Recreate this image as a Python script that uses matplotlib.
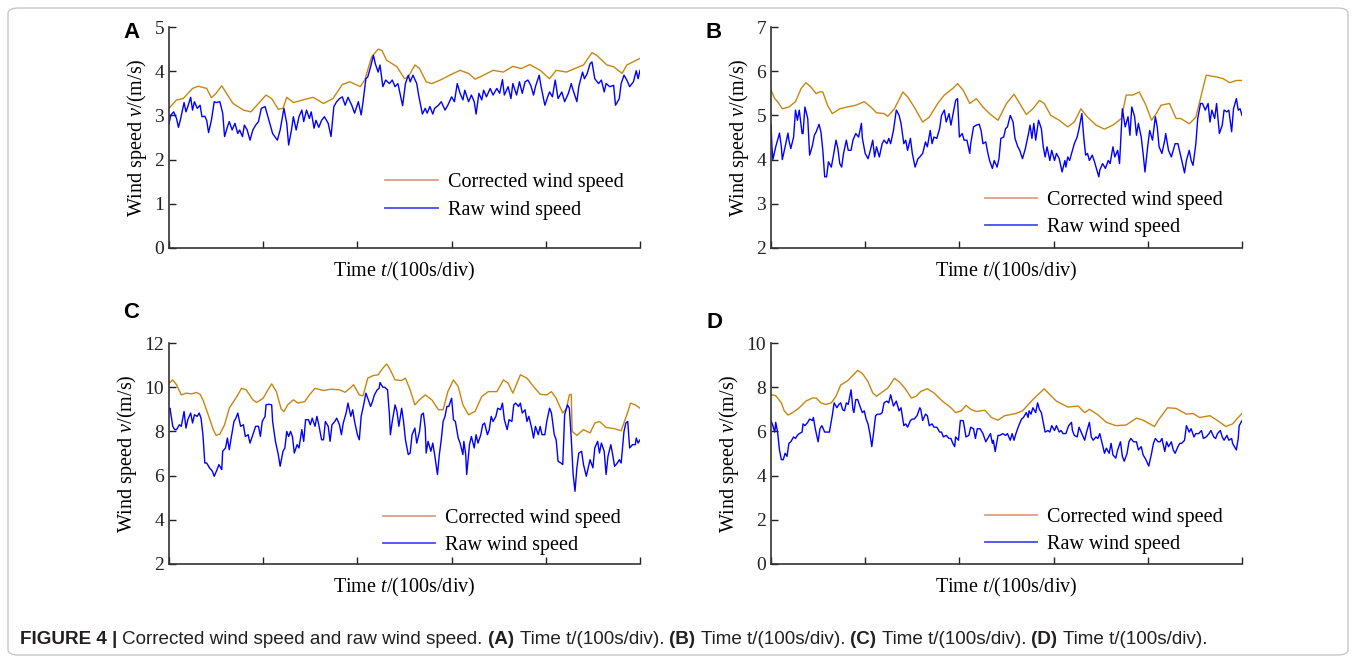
import numpy as np
import matplotlib
matplotlib.use("Agg")
import matplotlib.pyplot as plt
from matplotlib.lines import Line2D
from matplotlib.patches import FancyBboxPatch

plt.rcParams['font.family'] = ['Liberation Serif', 'DejaVu Serif']
plt.rcParams['mathtext.fontset'] = 'custom'
plt.rcParams['mathtext.rm'] = 'Liberation Serif'
plt.rcParams['mathtext.it'] = 'Liberation Serif:italic'

# time in seconds (100 s per division), wind speed in m/s

# ---- panel A ----
t_a_corr = [0, 8, 15, 25, 31, 40, 45, 50, 56, 61, 68, 79, 87, 95, 103, 109, 116, 121, 125, 132,
            142, 153, 164, 174, 184, 192, 203, 208, 215, 222, 226, 231, 242, 250, 254, 261, 266, 273, 279, 288,
            298, 309, 318, 325, 334, 344, 355, 365, 374, 383, 394, 404, 411, 422, 433, 440, 449, 454, 465, 472,
            481, 486, 500]
v_a_corr = [3.16, 3.35, 3.38, 3.61, 3.66, 3.61, 3.40, 3.50, 3.67, 3.50, 3.27, 3.12, 3.08, 3.27, 3.46, 3.38, 3.14, 3.16, 3.41, 3.29,
            3.35, 3.41, 3.27, 3.38, 3.70, 3.76, 3.65, 3.81, 4.32, 4.50, 4.47, 4.25, 4.10, 3.83, 3.87, 4.14, 4.06, 3.76, 3.72, 3.80,
            3.91, 4.02, 3.95, 3.82, 3.91, 4.02, 3.98, 4.11, 4.06, 4.15, 4.02, 3.83, 4.02, 3.98, 4.08, 4.14, 4.42, 4.36, 4.14, 4.10,
            3.95, 4.14, 4.29]
t_a_raw = [0, 2, 5, 8, 10, 12, 16, 18, 20, 23,
           25, 27, 30, 33, 35, 38, 40, 42, 45, 48,
           50, 54, 57, 59, 62, 64, 67, 70, 73, 75,
           78, 80, 83, 86, 89, 92, 95, 98, 102, 105,
           108, 110, 115, 118, 122, 125, 127, 130, 132, 135,
           138, 141, 143, 146, 149, 151, 154, 156, 159, 162,
           165, 169, 172, 175, 178, 181, 184, 187, 190, 194,
           197, 201, 204, 206, 209, 211, 214, 217, 219, 222,
           224, 227, 230, 234, 237, 240, 243, 246, 248, 251,
           254, 256, 259, 263, 265, 269, 272, 274, 277, 280,
           282, 286, 289, 293, 296, 300, 303, 306, 309, 312,
           314, 318, 321, 324, 326, 329, 332, 334, 337, 341,
           344, 348, 351, 354, 356, 360, 363, 365, 369, 372,
           375, 378, 381, 384, 387, 389, 393, 395, 399, 402,
           404, 407, 410, 413, 417, 420, 424, 427, 429, 433,
           435, 439, 441, 444, 447, 449, 452, 456, 459, 462,
           464, 468, 472, 474, 478, 480, 483, 486, 489, 493,
           496, 498, 500]
v_a_raw = [2.82, 3.01, 3.08, 2.93, 2.73, 2.89, 3.29, 3.08, 3.20, 3.41,
           3.12, 3.31, 3.16, 3.23, 2.97, 2.98, 2.89, 2.61, 2.89, 3.31,
           3.29, 3.31, 3.05, 2.52, 2.74, 2.86, 2.67, 2.82, 2.59, 2.67,
           2.52, 2.78, 2.67, 2.44, 2.67, 2.78, 2.86, 3.16, 3.20, 2.97,
           2.74, 2.59, 2.44, 2.67, 3.16, 2.82, 2.33, 2.67, 2.97, 2.67,
           2.97, 3.12, 2.86, 3.12, 2.93, 3.08, 2.71, 2.89, 2.73, 2.89,
           2.97, 2.82, 2.52, 3.20, 3.31, 3.38, 3.42, 3.23, 3.41, 3.23,
           3.05, 3.31, 3.01, 3.31, 3.83, 3.87, 4.10, 4.36, 4.17, 3.98,
           4.14, 3.65, 3.80, 3.72, 3.80, 3.65, 3.72, 3.42, 3.22, 3.72,
           3.91, 3.76, 3.91, 3.72, 3.46, 3.03, 3.16, 3.05, 3.20, 3.03,
           3.16, 3.23, 3.31, 3.12, 3.23, 3.42, 3.31, 3.72, 3.50, 3.35,
           3.57, 3.31, 3.46, 3.31, 3.03, 3.50, 3.35, 3.57, 3.42, 3.61,
           3.46, 3.61, 3.50, 3.81, 3.46, 3.65, 3.38, 3.72, 3.46, 3.76,
           3.50, 3.76, 3.80, 3.68, 3.46, 3.65, 3.91, 3.65, 3.23, 3.42,
           3.53, 3.42, 3.80, 3.38, 3.53, 3.31, 3.50, 3.72, 3.57, 3.31,
           3.65, 3.98, 3.83, 3.95, 4.17, 4.21, 3.83, 3.72, 3.80, 3.53,
           3.72, 3.65, 3.68, 3.23, 3.38, 3.72, 3.91, 3.80, 3.65, 3.76,
           4.01, 3.83, 4.02]

# ---- panel B ----
t_b_corr = [0, 4, 7, 12, 19, 26, 32, 37, 42, 48,
            51, 55, 60, 65, 73, 81, 90, 99, 106, 112,
            120, 124, 131, 140, 145, 152, 161, 168, 177, 184,
            193, 198, 204, 211, 218, 225, 232, 241, 250, 258,
            264, 271, 278, 285, 290, 297, 306, 315, 322, 329,
            336, 345, 354, 363, 372, 377, 384, 391, 398, 404,
            409, 414, 423, 430, 435, 444, 451, 462, 473, 480,
            487, 494, 500]
v_b_corr = [5.57, 5.38, 5.31, 5.15, 5.19, 5.31, 5.61, 5.74, 5.65, 5.49,
            5.53, 5.53, 5.23, 5.04, 5.15, 5.19, 5.23, 5.31, 5.19, 5.06,
            5.04, 4.98, 5.15, 5.53, 5.42, 5.19, 4.85, 4.96, 5.27, 5.46,
            5.61, 5.72, 5.57, 5.27, 5.38, 5.19, 5.04, 4.89, 5.27, 5.48,
            5.27, 5.02, 5.15, 5.34, 5.27, 5.00, 4.89, 4.74, 4.85, 5.15,
            4.96, 4.78, 4.69, 4.78, 4.93, 5.46, 5.46, 5.53, 5.23, 4.89,
            5.04, 5.23, 5.27, 4.93, 4.93, 4.81, 4.96, 5.91, 5.87, 5.83,
            5.74, 5.79, 5.79]
t_b_raw = [0, 1, 2, 5, 7, 9, 11, 12, 15, 18,
           19, 21, 24, 26, 28, 30, 33, 34, 36, 39,
           41, 44, 46, 48, 51, 53, 55, 57, 59, 61,
           64, 66, 69, 71, 73, 75, 77, 80, 82, 85,
           87, 90, 93, 96, 97, 100, 103, 105, 108, 110,
           112, 115, 118, 120, 123, 125, 127, 130, 133, 136,
           138, 141, 143, 145, 148, 150, 153, 156, 158, 161,
           164, 166, 169, 171, 173, 176, 179, 181, 184, 186,
           189, 191, 194, 196, 198, 200, 203, 205, 208, 211,
           212, 215, 218, 221, 223, 225, 228, 230, 232, 235,
           237, 240, 242, 244, 247, 249, 251, 254, 257, 259,
           262, 264, 267, 270, 273, 275, 277, 279, 281, 284,
           287, 289, 291, 293, 296, 298, 301, 303, 306, 309,
           312, 313, 315, 317, 320, 322, 325, 327, 330, 332,
           334, 336, 338, 341, 343, 345, 348, 349, 352, 355,
           358, 360, 363, 365, 368, 370, 372, 373, 376, 379,
           381, 383, 386, 388, 390, 393, 395, 397, 400, 402,
           405, 408, 410, 412, 415, 418, 419, 422, 425, 427,
           429, 432, 434, 436, 439, 441, 444, 446, 448, 451,
           453, 456, 458, 461, 464, 466, 468, 471, 473, 476,
           479, 481, 484, 486, 489, 491, 494, 496, 498, 500]
v_b_raw = [4.78, 4.29, 4.00, 4.29, 4.44, 4.60, 4.29, 4.00, 4.29, 4.60,
           4.44, 4.25, 4.51, 5.12, 4.89, 5.12, 4.59, 4.59, 5.19, 4.93,
           4.10, 4.32, 4.55, 4.63, 4.80, 4.63, 4.21, 3.61, 3.61, 3.95,
           3.83, 4.06, 4.44, 4.25, 3.91, 3.83, 4.14, 4.44, 4.21, 4.21,
           4.44, 4.59, 4.51, 4.82, 4.48, 4.14, 4.02, 4.17, 4.44, 4.06,
           4.29, 4.06, 4.36, 4.44, 4.36, 4.48, 4.36, 4.66, 5.12, 5.00,
           4.82, 4.36, 4.44, 4.21, 4.48, 4.14, 3.83, 4.02, 4.06, 4.14,
           4.40, 4.29, 4.66, 4.36, 4.51, 4.48, 4.70, 5.00, 5.12, 4.85,
           5.04, 4.78, 5.12, 5.34, 5.38, 4.51, 4.59, 4.44, 4.44, 4.14,
           4.36, 4.74, 4.78, 4.80, 4.66, 4.36, 4.40, 4.17, 3.98, 3.80,
           3.98, 3.83, 4.02, 4.48, 4.51, 4.70, 4.74, 5.00, 4.85, 4.48,
           4.29, 4.21, 4.02, 4.25, 4.55, 4.78, 4.48, 4.82, 4.44, 4.89,
           4.70, 4.29, 4.06, 4.29, 3.98, 4.21, 3.98, 4.14, 4.02, 3.72,
           3.98, 3.83, 4.06, 3.98, 4.21, 4.36, 4.51, 4.70, 5.04, 4.51,
           4.10, 4.14, 3.98, 4.10, 3.98, 3.83, 3.61, 3.76, 3.91, 3.80,
           3.98, 3.91, 4.29, 4.06, 4.21, 3.91, 4.74, 5.15, 4.74, 4.97,
           4.55, 5.19, 4.97, 4.55, 4.82, 4.51, 4.14, 3.72, 4.32, 4.66,
           4.44, 4.97, 4.74, 4.29, 4.14, 4.44, 4.59, 4.21, 4.06, 4.21,
           4.36, 4.36, 4.17, 3.98, 3.70, 3.98, 4.21, 3.98, 3.87, 4.36,
           4.93, 5.27, 5.27, 5.12, 5.27, 4.85, 5.12, 4.93, 5.27, 4.59,
           4.78, 5.12, 5.08, 5.12, 4.63, 5.15, 5.38, 5.12, 5.15, 5.00]

# ---- panel C ----
t_c_corr = [0, 4, 8, 13, 18, 24, 29, 33, 36, 41,
            47, 50, 54, 59, 64, 72, 77, 82, 89, 93,
            100, 105, 109, 114, 119, 122, 126, 132, 137, 144,
            149, 155, 164, 172, 181, 187, 192, 196, 202, 206,
            211, 217, 222, 227, 231, 234, 240, 247, 251, 256,
            261, 266, 272, 279, 286, 291, 296, 302, 307, 312,
            318, 325, 332, 339, 348, 355, 360, 365, 373, 380,
            387, 394, 401, 406, 411, 418, 422, 425, 427, 428,
            433, 440, 447, 452, 457, 464, 473, 480, 486, 490,
            495, 500]
v_c_corr = [10.18, 10.33, 10.11, 9.65, 9.73, 9.70, 9.76, 9.68, 9.43, 8.83,
            8.08, 7.82, 7.88, 8.30, 9.05, 9.58, 9.95, 9.88, 9.43, 9.31,
            9.50, 9.88, 10.15, 9.80, 9.02, 8.90, 9.20, 9.43, 9.28, 9.35,
            9.65, 9.95, 9.85, 9.91, 9.88, 9.77, 9.95, 10.11, 9.65, 9.61,
            10.41, 10.53, 10.56, 10.86, 11.05, 10.86, 10.33, 10.30, 10.41, 9.88,
            9.20, 9.43, 9.65, 9.43, 8.98, 8.98, 9.80, 10.33, 10.03, 9.20,
            8.75, 8.91, 9.58, 9.80, 9.80, 10.33, 10.18, 9.73, 10.56, 10.41,
            10.03, 9.68, 9.65, 9.80, 9.50, 8.83, 9.05, 9.65, 9.68, 8.00,
            7.82, 8.08, 7.93, 8.38, 8.45, 8.18, 8.12, 8.03, 8.75, 9.28,
            9.20, 9.05]
t_c_raw = [0, 1, 4, 6, 8, 11, 13, 16, 18, 20,
           23, 25, 27, 30, 32, 34, 36, 38, 40, 43,
           46, 48, 51, 53, 56, 57, 60, 62, 64, 66,
           69, 71, 73, 76, 79, 81, 84, 86, 89, 92,
           95, 97, 99, 102, 103, 106, 109, 110, 113, 116,
           118, 121, 123, 125, 127, 129, 131, 133, 136, 138,
           141, 143, 145, 148, 150, 152, 155, 157, 159, 162,
           164, 166, 169, 171, 173, 176, 178, 181, 183, 185,
           188, 190, 193, 195, 197, 200, 202, 204, 207, 209,
           211, 214, 216, 218, 221, 223, 224, 227, 229, 232,
           234, 235, 237, 240, 242, 244, 247, 249, 251, 254,
           256, 258, 261, 263, 266, 268, 270, 272, 273, 275,
           278, 280, 282, 285, 287, 289, 291, 293, 295, 297,
           300, 302, 304, 307, 309, 312, 313, 315, 316, 319,
           321, 324, 326, 328, 331, 333, 335, 338, 340, 342,
           344, 347, 349, 352, 354, 356, 359, 361, 364, 366,
           368, 371, 373, 375, 378, 380, 382, 385, 387, 389,
           392, 394, 396, 399, 401, 404, 406, 409, 411, 413,
           416, 418, 420, 423, 425, 427, 429, 431, 433, 435,
           438, 440, 443, 445, 447, 450, 452, 455, 457, 459,
           462, 464, 466, 469, 471, 473, 476, 478, 480, 483,
           485, 487, 489, 492, 495, 496, 498, 500]
v_c_raw = [8.98, 9.05, 8.23, 8.08, 8.08, 8.30, 8.23, 8.90, 8.15, 8.53,
           8.83, 8.38, 8.75, 8.68, 8.83, 8.60, 7.85, 6.57, 6.57, 6.35,
           6.20, 5.97, 6.27, 6.50, 6.27, 7.10, 7.25, 7.70, 7.17, 7.70,
           8.45, 8.60, 8.83, 8.23, 8.30, 7.77, 7.85, 7.47, 7.85, 8.23,
           8.23, 7.77, 8.45, 8.68, 9.20, 9.23, 9.20, 8.45, 7.55, 6.95,
           6.42, 7.10, 7.25, 8.00, 7.77, 8.00, 7.77, 7.02, 7.40, 7.25,
           8.08, 7.55, 8.53, 8.53, 8.30, 8.60, 8.23, 8.68, 8.30, 7.62,
           7.62, 8.45, 8.23, 7.55, 8.30, 8.45, 8.60, 8.30, 7.85, 8.38,
           8.83, 9.28, 8.68, 8.98, 8.45, 7.85, 7.62, 8.68, 9.28, 9.73,
           9.50, 9.13, 9.35, 9.65, 9.88, 9.95, 10.21, 10.00, 10.00, 9.88,
           8.75, 7.85, 8.45, 9.20, 8.90, 8.23, 9.05, 8.45, 7.62, 6.95,
           7.02, 7.85, 8.15, 7.47, 8.00, 8.75, 8.83, 8.15, 7.02, 7.55,
           7.10, 7.47, 6.95, 6.05, 6.95, 7.62, 8.45, 8.68, 9.13, 9.13,
           9.50, 8.53, 8.45, 7.70, 7.47, 6.95, 7.55, 6.95, 6.05, 7.40,
           7.77, 7.25, 7.85, 7.47, 7.85, 8.30, 8.38, 7.85, 8.08, 8.68,
           8.45, 8.68, 9.05, 8.98, 9.28, 8.53, 8.08, 8.53, 8.45, 9.20,
           9.28, 9.13, 9.28, 8.83, 8.98, 8.45, 8.68, 8.15, 7.70, 8.23,
           7.85, 8.23, 7.85, 7.85, 8.45, 9.05, 8.83, 7.85, 7.62, 6.65,
           6.57, 6.50, 8.75, 9.20, 9.05, 7.70, 6.05, 5.29, 6.35, 7.02,
           7.10, 6.50, 5.97, 6.35, 6.72, 6.35, 7.25, 7.55, 7.02, 7.47,
           7.10, 6.05, 6.87, 7.40, 6.95, 6.42, 6.57, 6.72, 6.57, 8.00,
           8.38, 8.45, 7.25, 7.40, 7.40, 7.70, 7.47, 7.62]

# ---- panel D ----
t_d_corr = [0, 5, 11, 14, 18, 23, 30, 37, 44, 48,
            53, 58, 64, 69, 74, 81, 87, 92, 97, 103,
            108, 112, 119, 124, 131, 136, 142, 149, 154, 159,
            166, 173, 182, 191, 196, 202, 207, 212, 218, 227,
            234, 241, 248, 260, 267, 278, 290, 296, 303, 315,
            326, 333, 338, 347, 356, 366, 377, 388, 395, 407,
            412, 421, 430, 441, 448, 455, 466, 474, 483, 490,
            496, 500]
v_d_corr = [7.66, 7.62, 7.29, 6.93, 6.74, 6.85, 7.07, 7.37, 7.51, 7.51,
            7.29, 7.22, 7.29, 7.59, 8.10, 8.28, 8.54, 8.76, 8.62, 8.25,
            7.74, 7.59, 7.81, 7.96, 8.40, 8.25, 7.96, 7.51, 7.59, 7.81,
            7.93, 7.74, 7.37, 7.07, 6.85, 6.93, 7.18, 7.00, 6.90, 6.96,
            6.63, 6.51, 6.71, 6.81, 6.93, 7.44, 7.93, 7.66, 7.37, 7.10,
            7.15, 6.85, 7.00, 6.75, 6.41, 6.26, 6.29, 6.60, 6.51, 6.22,
            6.56, 7.07, 7.04, 6.78, 6.81, 6.63, 6.71, 6.49, 6.22, 6.34,
            6.63, 6.81]
t_d_raw = [0, 2, 4, 5, 7, 9, 11, 13, 15, 17,
           19, 21, 24, 26, 28, 30, 33, 34, 36, 39,
           41, 44, 45, 47, 50, 52, 54, 57, 59, 62,
           65, 67, 70, 72, 74, 76, 78, 80, 82, 85,
           87, 88, 90, 92, 95, 97, 99, 101, 103, 105,
           107, 109, 111, 113, 116, 118, 120, 123, 125, 127,
           130, 133, 136, 138, 141, 143, 145, 148, 150, 152,
           155, 158, 159, 161, 164, 166, 168, 171, 173, 176,
           179, 181, 183, 186, 189, 191, 193, 195, 196, 199,
           201, 204, 205, 207, 210, 212, 215, 217, 219, 222,
           225, 228, 230, 233, 235, 236, 238, 241, 243, 246,
           249, 251, 254, 256, 258, 260, 263, 266, 268, 271,
           273, 274, 276, 278, 281, 283, 285, 287, 289, 291,
           294, 296, 298, 301, 303, 306, 308, 310, 313, 316,
           319, 320, 322, 325, 327, 330, 333, 335, 338, 340,
           342, 345, 347, 349, 352, 354, 356, 359, 361, 363,
           366, 368, 371, 373, 375, 378, 380, 382, 385, 388,
           390, 393, 395, 398, 401, 404, 406, 408, 411, 413,
           415, 418, 420, 422, 425, 427, 429, 432, 434, 436,
           439, 441, 444, 446, 449, 451, 454, 457, 459, 462,
           465, 467, 470, 472, 474, 477, 479, 481, 484, 486,
           489, 490, 492, 494, 496, 497, 500]
v_d_raw = [6.49, 6.26, 5.97, 6.41, 5.97, 5.16, 4.72, 4.72, 5.01, 4.87,
           5.46, 5.53, 5.75, 5.68, 5.82, 5.90, 5.97, 6.34, 6.26, 6.41,
           6.56, 6.49, 6.63, 6.12, 5.53, 6.12, 6.26, 5.97, 5.97, 5.97,
           6.71, 7.29, 7.07, 7.22, 7.29, 6.99, 6.93, 7.29, 7.22, 7.88,
           6.99, 6.85, 7.44, 7.44, 7.07, 6.85, 6.93, 6.56, 6.34, 5.90,
           5.31, 5.97, 6.71, 6.78, 6.78, 6.85, 7.29, 7.37, 7.29, 7.66,
           7.15, 7.37, 6.93, 7.07, 6.26, 6.34, 6.19, 6.49, 6.56, 6.56,
           6.71, 7.07, 6.99, 6.49, 6.78, 6.71, 6.26, 6.34, 6.19, 6.19,
           5.97, 5.97, 5.75, 5.82, 5.68, 5.68, 5.46, 5.31, 5.75, 5.60,
           6.49, 6.49, 6.26, 5.75, 5.82, 6.19, 6.12, 5.68, 6.12, 6.12,
           5.90, 5.53, 5.68, 5.90, 5.46, 5.60, 5.09, 5.82, 5.82, 5.90,
           5.82, 5.90, 5.60, 5.90, 5.60, 5.90, 6.26, 6.56, 6.63, 6.85,
           6.63, 6.93, 6.78, 7.07, 6.85, 7.29, 6.99, 6.85, 6.41, 5.97,
           6.04, 5.97, 6.26, 6.04, 6.26, 5.97, 6.04, 5.90, 5.90, 6.26,
           6.41, 6.04, 5.82, 5.75, 6.19, 5.90, 5.60, 5.97, 6.41, 5.75,
           5.60, 5.75, 5.68, 5.90, 5.38, 5.01, 5.24, 5.01, 5.46, 4.94,
           4.79, 5.16, 5.53, 4.87, 4.65, 5.01, 5.53, 5.68, 5.53, 5.53,
           5.16, 5.31, 4.94, 4.72, 4.43, 5.01, 5.46, 5.68, 5.53, 5.53,
           5.68, 5.09, 5.53, 5.31, 5.53, 5.16, 5.01, 5.31, 5.46, 5.46,
           5.60, 6.26, 5.97, 6.12, 5.75, 5.90, 5.90, 6.04, 5.68, 5.75,
           5.90, 6.04, 5.75, 5.68, 5.90, 6.04, 5.75, 5.60, 5.82, 5.60,
           5.68, 5.46, 5.31, 5.16, 5.68, 6.26, 6.49]

corr_color = '#C8860F'
raw_color = '#0000FF'
corr_leg = '#DBA085'
raw_leg = '#4A4AF5'


def draw_panel(ax, t_c, v_c, t_r, v_r, ylim, ystep, leg_xy):
    ax.plot(t_c, v_c, color=corr_color, lw=1.0)
    ax.plot(t_r, v_r, color=raw_color, lw=1.0)
    ax.set_xlim(0, 500)
    ax.set_ylim(*ylim)
    ax.set_xticks(np.arange(0, 501, 100))
    ax.set_xticklabels([])
    ax.set_yticks(np.arange(ylim[0], ylim[1] + 0.1, ystep))
    for s in ['top', 'right']:
        ax.spines[s].set_visible(False)
    for s in ['left', 'bottom']:
        ax.spines[s].set_linewidth(1.2)
        ax.spines[s].set_color('#333333')
    ax.tick_params(direction='in', length=5, width=1, labelsize=14, colors='#222222')
    ax.set_ylabel('Wind speed $v$/(m/s)', fontsize=14.5, labelpad=4)
    ax.set_xlabel('Time $t$/(100s/div)', fontsize=14.5, labelpad=5)
    handles = [Line2D([], [], color=corr_leg, lw=1.3), Line2D([], [], color=raw_leg, lw=1.3)]
    ax.legend(handles, ['Corrected wind speed', 'Raw wind speed'], loc='upper left',
              bbox_to_anchor=leg_xy, frameon=False, fontsize=14.5, borderpad=0,
              borderaxespad=0, handlelength=2.6, handletextpad=0.5, labelspacing=0.4)


fig = plt.figure(figsize=(13.56, 6.62), dpi=100)
W, H = 1356.0, 662.0


def add_ax(left, top, right, bottom):
    return fig.add_axes([left / W, 1 - bottom / H, (right - left) / W, (bottom - top) / H])


ax_a = add_ax(169, 27, 640, 248)
ax_b = add_ax(771, 27, 1242, 248)
ax_c = add_ax(169, 343, 640, 564)
ax_d = add_ax(771, 343, 1242, 564)

draw_panel(ax_a, t_a_corr, v_a_corr, t_a_raw, v_a_raw, (0, 5), 1, (0.459, 0.338))
draw_panel(ax_b, t_b_corr, v_b_corr, t_b_raw, v_b_raw, (2, 7), 1, (0.454, 0.257))
draw_panel(ax_c, t_c_corr, v_c_corr, t_c_raw, v_c_raw, (2, 12), 2, (0.454, 0.249))
draw_panel(ax_d, t_d_corr, v_d_corr, t_d_raw, v_d_raw, (0, 10), 2, (0.454, 0.254))

for lab, x, y in [('A', 131, 33), ('B', 714, 33), ('C', 131, 312), ('D', 714, 322)]:
    fig.text(x / W, 1 - y / H, lab, fontsize=16, fontweight='bold',
             family='Liberation Sans', ha='center', va='center')

# rounded frame around the whole figure
frame = FancyBboxPatch((8 / W, 7 / H), 1 - 16 / W, 1 - 15 / H,
                       boxstyle='round,pad=0,rounding_size=0.008',
                       transform=fig.transFigure, fill=False,
                       edgecolor='#C8C8C8', lw=1.0)
fig.patches.append(frame)

# caption, bold and regular pieces placed one after another
cap_family, cap_size = 'Liberation Sans', 13.6
caption = [('FIGURE 4 |', True), ('Corrected wind speed and raw wind speed.', False),
           ('(A)', True), ('Time t/(100s/div).', False), ('(B)', True), ('Time t/(100s/div).', False),
           ('(C)', True), ('Time t/(100s/div).', False), ('(D)', True), ('Time t/(100s/div).', False)]
renderer = fig.canvas.get_renderer()
probe1 = fig.text(0, 0, 'a a', fontsize=cap_size, family=cap_family)
probe2 = fig.text(0, 0, 'aa', fontsize=cap_size, family=cap_family)
space = probe1.get_window_extent(renderer).width - probe2.get_window_extent(renderer).width
probe1.remove()
probe2.remove()
x = 20.0
for word, bold in caption:
    t = fig.text(x / W, 1 - 640 / H, word, fontsize=cap_size, family=cap_family,
                 fontweight='bold' if bold else 'normal', va='center', ha='left', color='#231F20')
    x += t.get_window_extent(renderer).width + space

fig.savefig('out.png', dpi=100)
